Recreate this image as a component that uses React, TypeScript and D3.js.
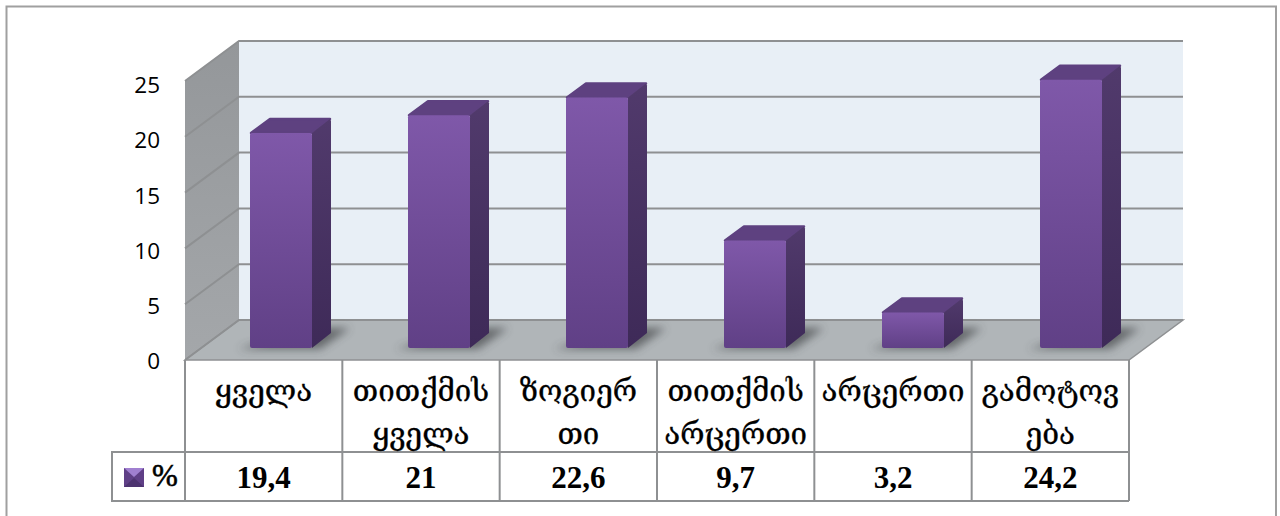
import React from "react";
import * as d3 from "d3";

const categories = [
  ["ყველა"],
  ["თითქმის", "ყველა"],
  ["ზოგიერ", "თი"],
  ["თითქმის", "არცერთი"],
  ["არცერთი"],
  ["გამოტოვ", "ება"],
];
const values = [19.4, 21, 22.6, 9.7, 3.2, 24.2];
const valueLabels = ["19,4", "21", "22,6", "9,7", "3,2", "24,2"];
const ticks = [0, 5, 10, 15, 20, 25];

const width = 1280;
const height = 516;
const grey = "#8e9092";

// front plane of the 3d box and how far back the wall sits
const left = 185;
const right = 1129;
const floorY = 360;
const depthX = 54;
const depthY = 40;

const barW = 62;
const barDX = 19;
const barDY = 15;
const barBase = 348;

const x = d3.scaleBand<number>().domain(d3.range(categories.length)).range([left, right]);
const y = d3.scaleLinear().domain([0, 25]).range([floorY, floorY - 279]);
const tickY = d3.scaleLinear().domain([0, 25]).range([361, 85]);
// bars stand a little way into the box, so they get their own scales
const barX = d3.scaleBand<number>().domain(d3.range(categories.length)).range([202, 202 + 6 * 158]);
const barY = d3.scaleLinear().domain([0, 25]).range([barBase, barBase - 277]);

const pts = (p: number[][]) => p.map((d) => d.join(",")).join(" ");

export default function App() {
  const sans = "'Open Sans', sans-serif";
  const geo = "'DejaVu Serif', 'DejaVu Sans', serif";
  const serif = "'Liberation Serif', serif";
  return (
    <svg width={width} height={height} style={{ position: "absolute", left: 0, top: 0, background: "#fff" }}>
      <defs>
        <linearGradient id="front" x1="0" y1="0" x2="0" y2="1">
          <stop offset="0" stopColor="#7f58a9" />
          <stop offset="1" stopColor="#604086" />
        </linearGradient>
        <linearGradient id="side" x1="0" y1="0" x2="0" y2="1">
          <stop offset="0" stopColor="#513a6c" />
          <stop offset="1" stopColor="#3e2a58" />
        </linearGradient>
        <linearGradient id="wall" x1="0" y1="0" x2="0" y2="1">
          <stop offset="0" stopColor="#94979a" />
          <stop offset="1" stopColor="#a4a7aa" />
        </linearGradient>
        <filter id="blur" x="-30%" y="-60%" width="160%" height="220%">
          <feGaussianBlur stdDeviation="4.5" />
        </filter>
      </defs>

      <path d={`M6.5 516V6.5H1276V516`} fill="none" stroke="#a0a0a0" strokeWidth={2} />

      {/* walls and floor */}
      <rect x={left + depthX} y={y(25) - depthY} width={right - left} height={y(0) - y(25)} fill="#e8eff6" />
      <polygon
        points={pts([[left, y(25)], [left + depthX, y(25) - depthY], [left + depthX, y(0) - depthY], [left, y(0)]])}
        fill="url(#wall)"
      />
      <polygon
        points={pts([[left, y(0)], [left + depthX, y(0) - depthY], [right + depthX, y(0) - depthY], [right, y(0)]])}
        fill="#b0b5b8"
        stroke={grey}
        strokeWidth={1.5}
      />
      {ticks.map((t) => (
        <polyline
          key={t}
          points={pts([[left, y(t)], [left + depthX, y(t) - depthY], [right + depthX, y(t) - depthY]])}
          fill="none"
          stroke={grey}
          strokeWidth={2}
        />
      ))}
      {ticks.map((t) => (
        <text key={t} x={160} y={tickY(t)} dy="0.36em" textAnchor="end" fontFamily={sans} fontSize={22.5} fill="#000">
          {t}
        </text>
      ))}

      {/* bars */}
      {values.map((v, i) => {
        const bx = (barX(i) as number) + (barX.bandwidth() - barW) / 2;
        const top = barY(v);
        return (
          <g key={i}>
            <polygon
              points={pts([[bx - 12, barBase + 1], [bx + barW + 8, barBase + 1], [bx + barW + 38, barBase - 20], [bx + barW, barBase - 20]])}
              fill="#3c3f42"
              opacity={0.65}
              filter="url(#blur)"
            />
            <polygon
              points={pts([[bx + 1, top], [bx + barDX + 1, top - barDY + 1], [bx + barW + barDX - 1, top - barDY + 1], [bx + barW - 1, top]])}
              fill="#5e4180"
              stroke="#5e4180"
              strokeLinejoin="round"
              strokeWidth={2.5}
            />
            <polygon
              points={pts([[bx + barW, top], [bx + barW + barDX - 1, top - barDY + 1], [bx + barW + barDX, top - barDY + 3], [bx + barW + barDX, barBase - barDY], [bx + barW, barBase]])}
              fill="url(#side)"
            />
            <rect x={bx} y={top} width={barW} height={barBase - top} rx={2} fill="url(#front)" />
          </g>
        );
      })}

      {/* data table */}
      <path d={`M${left} 452H112V501H${right}M${left} 452H${right}`} fill="none" stroke={grey} strokeWidth={2} />
      {d3.range(categories.length + 1).map((i) => {
        const lx = left + i * x.step();
        return <line key={i} x1={lx} x2={lx} y1={floorY} y2={501} stroke={grey} strokeWidth={2} />;
      })}
      {categories.map((lines, i) => {
        const cx = (x(i) as number) + x.bandwidth() / 2;
        return (
          <g key={i}>
            {lines.map((l, j) => (
              <text
                key={j}
                x={cx}
                y={391 + j * 43}
                dy="0.35em"
                textAnchor="middle"
                fontFamily={geo}
                fontSize={29.5}
                fill="#000"
                stroke="#000"
                strokeWidth={0.3}
              >
                {l}
              </text>
            ))}
            <text x={cx} y={477} dy="0.35em" textAnchor="middle" fontFamily={serif} fontWeight="bold" fontSize={31} fill="#000">
              {valueLabels[i]}
            </text>
          </g>
        );
      })}

      {/* legend key */}
      <rect x={124} y={468} width={20} height={19} fill="#5f3f86" />
      <polygon points={pts([[124, 468], [144, 468], [134, 477]])} fill="#a07fd0" />
      <polygon points={pts([[124, 487], [144, 487], [134, 478]])} fill="#4d3370" />
      <text x={165} y={475} dy="0.35em" textAnchor="middle" fontFamily={serif} fontSize={31} fill="#000" stroke="#000" strokeWidth={0.6}>
        %
      </text>
    </svg>
  );
}
